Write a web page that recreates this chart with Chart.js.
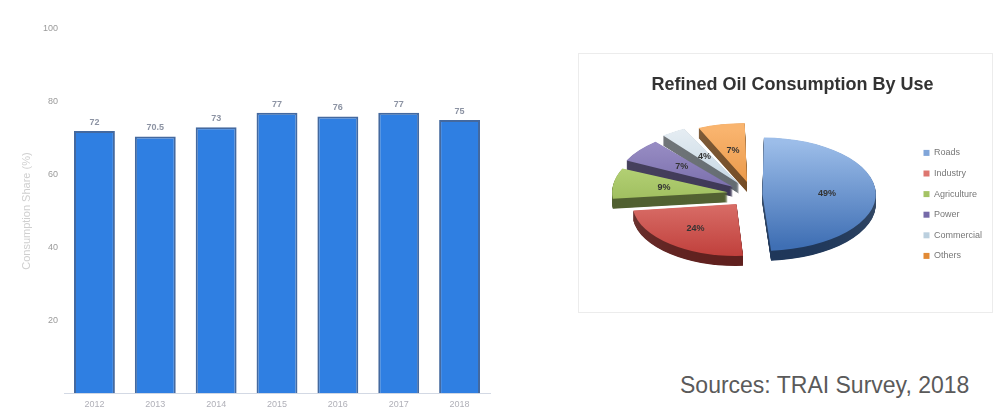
<!DOCTYPE html>
<html>
<head>
<meta charset="utf-8">
<script src="https://cdn.jsdelivr.net/npm/chart.js@4.4.1/dist/chart.umd.min.js"></script>
<style>
  body { margin: 0; background: #fff; width: 995px; height: 410px; overflow: hidden; position: relative; font-family: 'Liberation Sans', Arial, sans-serif; }
  #cajaBarras { position: absolute; left: 0; top: 0; width: 500px; height: 410px; }
  #cajaTorta { position: absolute; left: 578px; top: 53px; width: 415px; height: 260px; border: 1px solid #ececec; box-sizing: border-box; }
  #fuente { position: absolute; left: 680px; top: 372px; font-size: 23px; color: #5a5a5a; white-space: nowrap; }
</style>
</head>
<body>
<div id="cajaBarras"><canvas id="canvasBarras" width="500" height="410"></canvas></div>
<div id="cajaTorta"><canvas id="canvasTorta" width="413" height="258"></canvas></div>
<div id="fuente">Sources: TRAI Survey, 2018</div>
<script>
//Datos del grafico de barras
const anios = ['2012', '2013', '2014', '2015', '2016', '2017', '2018'];
const consumo = [72, 70.5, 73, 77, 76, 77, 75];
const marcasEje = [0, 20, 40, 60, 80, 100];

//Datos del grafico de torta
const usos = ['Roads', 'Industry', 'Agriculture', 'Power', 'Commercial', 'Others'];
const porcentajes = [49, 24, 9, 7, 4, 7];

//Estilos de la torta (claro arriba, oscuro abajo)
const coloresClaros = ['#9cbde9', '#f19a92', '#c3de86', '#9d92c8', '#e4ecf2', '#f9b46e'];
const coloresOscuros = ['#3f6fb4', '#c0403c', '#86a843', '#5b4f93', '#a9c3d6', '#dc7f26'];
const desplazamientos = [40, 100, 100, 100, 100, 100];
const RADIO = 104;
const INCLINACION = 0.5;
const GROSOR = 10;

Chart.defaults.font.family = "'Liberation Sans', Arial, sans-serif";
Chart.defaults.animation = false;

//Plugin que escribe el valor arriba de cada barra
const etiquetasBarras = {
  id: 'etiquetasBarras',
  afterDatasetsDraw(chart) {
    const ctx = chart.ctx;
    const barras = chart.getDatasetMeta(0).data;
    ctx.save();
    ctx.font = "bold 9px 'Liberation Sans', Arial, sans-serif";
    ctx.fillStyle = '#8c93a3';
    ctx.textAlign = 'center';
    ctx.textBaseline = 'bottom';
    barras.forEach((barra, i) => {
      ctx.fillText(String(consumo[i]), barra.x, barra.y - 4);
    });
    ctx.restore();
  }
};

//Plugin que aplasta la torta y le dibuja el costado para que parezca 3D
const torta3d = {
  id: 'torta3d',
  beforeDatasetsDraw(chart) {
    const ctx = chart.ctx;
    const arcos = chart.getDatasetMeta(0).data;
    const cy = arcos[0].y;
    ctx.save();
    ctx.translate(0, cy);
    ctx.scale(1, INCLINACION);
    ctx.translate(0, -cy);
    //el costado: copias oscurecidas corridas hacia abajo
    ctx.save();
    ctx.filter = 'brightness(50%)';
    for (let d = GROSOR / INCLINACION; d > 0; d -= 1) {
      ctx.save();
      ctx.translate(0, d);
      arcos.forEach(a => a.draw(ctx));
      ctx.restore();
    }
    ctx.restore();
  },
  afterDatasetsDraw(chart) {
    const ctx = chart.ctx;
    ctx.restore();
    const arcos = chart.getDatasetMeta(0).data;
    const cy = arcos[0].y;
    ctx.save();
    ctx.font = "bold 9px 'Liberation Sans', Arial, sans-serif";
    ctx.fillStyle = '#333';
    ctx.textAlign = 'center';
    ctx.textBaseline = 'middle';
    arcos.forEach((a, i) => {
      const medio = (a.startAngle + a.endAngle) / 2;
      const r = a.outerRadius * 0.62 + (a.options.offset || 0) / 4;
      const x = a.x + Math.cos(medio) * r;
      const y = cy + Math.sin(medio) * r * INCLINACION;
      ctx.fillText(porcentajes[i] + '%', x, y);
    });
    ctx.restore();
  }
};

//Grafico de barras
new Chart(document.getElementById('canvasBarras'), {
  type: 'bar',
  data: {
    labels: anios,
    datasets: [{
      data: consumo,
      backgroundColor: '#2f7fe2',
      borderColor: '#44699f',
      borderWidth: 2,
      categoryPercentage: 0.8,
      barPercentage: 0.84
    }]
  },
  options: {
    responsive: false,
    layout: { padding: { top: 29, right: 10, bottom: -6, left: 0 } },
    plugins: { legend: { display: false }, tooltip: { enabled: false } },
    scales: {
      x: {
        grid: { display: false, drawTicks: false },
        border: { color: '#d3d9e4' },
        ticks: { color: '#b0b0b8', font: { size: 9 }, padding: 6 }
      },
      y: {
        min: 0,
        max: 100,
        afterBuildTicks(eje) { eje.ticks = marcasEje.map(v => ({ value: v })); },
        afterFit(eje) { eje.width = 64; },
        grid: { display: false, drawTicks: false },
        border: { display: false },
        ticks: {
          color: '#9a9a9a',
          font: { size: 9 },
          padding: 6,
          callback: v => (v === 0 ? '' : v)
        },
        title: {
          display: true,
          text: 'Consumption Share (%)',
          color: '#cfcfcf',
          font: { size: 11 },
          padding: { top: 20, bottom: 0 }
        }
      }
    }
  },
  plugins: [etiquetasBarras]
});

//Grafico de torta
new Chart(document.getElementById('canvasTorta'), {
  type: 'pie',
  data: {
    labels: usos,
    datasets: [{
      data: porcentajes,
      backgroundColor(c) {
        const chart = c.chart;
        const area = chart.chartArea;
        if (!area) return coloresOscuros[c.dataIndex];
        const cy = (area.top + area.bottom) / 2;
        const g = chart.ctx.createLinearGradient(0, cy - RADIO, 0, cy + RADIO);
        g.addColorStop(0, coloresClaros[c.dataIndex]);
        g.addColorStop(1, coloresOscuros[c.dataIndex]);
        return g;
      },
      borderWidth: 0,
      offset: desplazamientos,
      radius: RADIO,
      clip: false
    }]
  },
  options: {
    responsive: false,
    layout: { padding: { top: 0, right: 0, bottom: 40, left: 14 } },
    plugins: {
      tooltip: { enabled: false },
      title: {
        display: true,
        text: 'Refined Oil Consumption By Use',
        color: '#333',
        font: { size: 18, weight: 'bold' },
        padding: { top: 20, bottom: 21 }
      },
      legend: {
        position: 'right',
        align: 'end',
        labels: {
          boxWidth: 6,
          boxHeight: 6,
          color: '#777',
          font: { size: 9 },
          padding: 11.6
        }
      }
    }
  },
  plugins: [torta3d]
});
</script>
</body>
</html>
